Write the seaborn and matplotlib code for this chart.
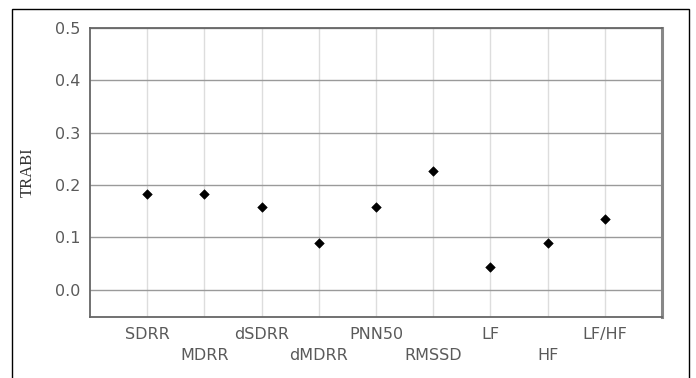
import pandas as pd
import matplotlib.pyplot as plt
import seaborn as sns
from matplotlib.patches import Rectangle

measures = ["SDRR", "MDRR", "dSDRR", "dMDRR", "PNN50", "RMSSD", "LF", "HF", "LF/HF"]
trabi = [0.183, 0.183, 0.158, 0.090, 0.158, 0.226, 0.043, 0.090, 0.135]
y_ticks = [0.0, 0.1, 0.2, 0.3, 0.4, 0.5]

df = pd.DataFrame({"measure": measures, "trabi": trabi})
df["pos"] = range(len(df))

sns.set_theme(style="white")
plt.rcParams["font.family"] = ["DejaVu Sans"]

fig = plt.figure(figsize=(6.96, 3.78), dpi=100)
ax = fig.add_axes([90 / 696, 61 / 378, 572 / 696, 289 / 378])

# outer frame around the whole figure
fig.patches.append(Rectangle((12 / 696, -0.05), 677 / 696, (369 / 378) + 0.05,
                             transform=fig.transFigure, fill=False,
                             edgecolor="black", linewidth=1.0))

sns.scatterplot(data=df, x="pos", y="trabi", marker="D", s=24, color="black",
                edgecolor="black", ax=ax, zorder=5, legend=False)

ax.set_xlim(-1, len(measures))
ax.set_ylim(-0.052, 0.5)
ax.set_yticks(y_ticks)
ax.set_yticklabels([f"{v:.1f}" for v in y_ticks], color="#5a5a5a", fontsize=11.5)
ax.set_xticks(df["pos"])
ax.set_xticklabels([m if i % 2 == 0 else "\n" + m for i, m in enumerate(measures)],
                   color="#5a5a5a", fontsize=11.5, linespacing=1.5)

ax.grid(axis="y", color="#9a9a9a", linewidth=1.0)
ax.grid(axis="x", color="#dddddd", linewidth=1.0)
ax.set_axisbelow(True)
ax.tick_params(axis="both", length=3, width=1, color="#777777", direction="out", pad=4)

for side in ["left", "bottom", "top"]:
    ax.spines[side].set_color("#666666")
    ax.spines[side].set_linewidth(1.3)
ax.spines["right"].set_color("#888888")
ax.spines["right"].set_linewidth(2.2)

ax.set_xlabel("")
ax.set_ylabel("TRABI", family=["Liberation Serif", "DejaVu Serif"], fontsize=12,
              color="#333333", labelpad=14)

fig.savefig("out.png", dpi=100)
